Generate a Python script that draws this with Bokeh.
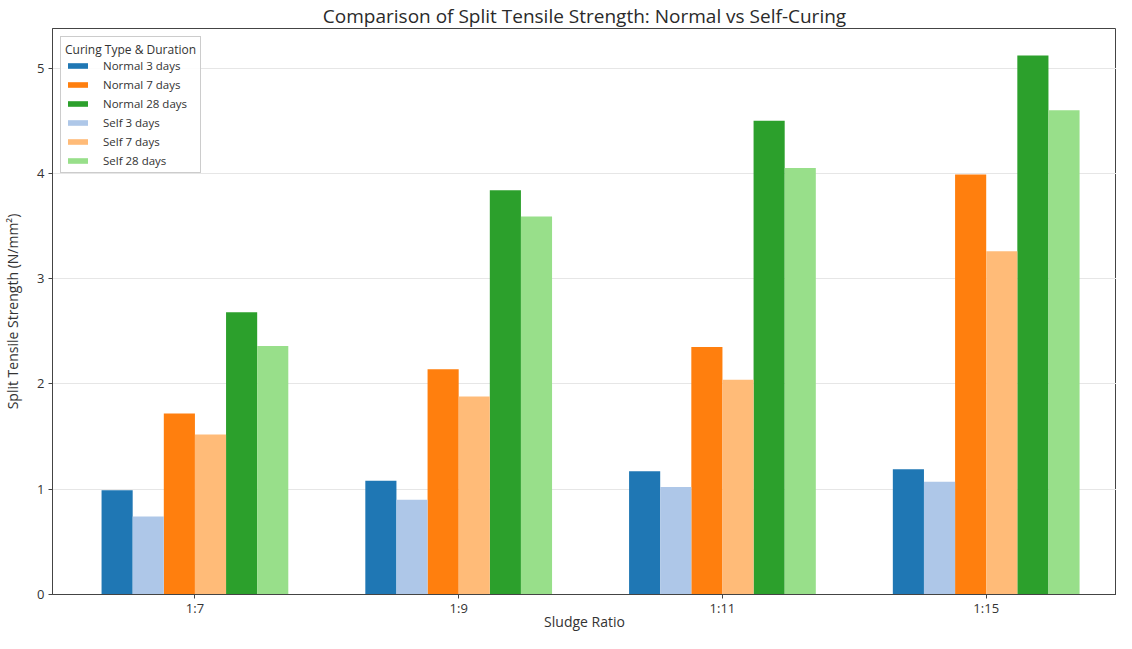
from bokeh.plotting import figure
from bokeh.models import FixedTicker, Range1d, Legend, LegendItem
from bokeh.embed import file_html
from bokeh.resources import INLINE

ratios = ["1:7", "1:9", "1:11", "1:15"]
normal_3 = [0.99, 1.08, 1.17, 1.19]
normal_7 = [1.72, 2.14, 2.35, 3.99]
normal_28 = [2.68, 3.84, 4.50, 5.12]
self_3 = [0.74, 0.90, 1.02, 1.07]
self_7 = [1.52, 1.88, 2.04, 3.26]
self_28 = [2.36, 3.59, 4.05, 4.60]

FONT = "Open Sans"
w = 0.118

p = figure(width=1116, height=633, output_backend="svg", toolbar_location=None,
           x_range=Range1d(-0.54, 3.494), y_range=Range1d(0, 5.376),
           min_border_left=47, min_border_right=0, min_border_top=0, min_border_bottom=0)
p.title.text = "Comparison of Split Tensile Strength: Normal vs Self-Curing"
p.title.align = "center"
p.title.text_font = FONT
p.title.text_font_style = "normal"
p.title.text_font_size = "19px"
p.title.text_color = "#2a2a2a"
p.title.offset = 0
p.title.standoff = 0

xs = list(range(len(ratios)))
series = [
    ("Normal 3 days", normal_3, "#1f77b4", 0),
    ("Normal 7 days", normal_7, "#ff7f0e", 2),
    ("Normal 28 days", normal_28, "#2ca02c", 4),
    ("Self 3 days", self_3, "#aec7e8", 1),
    ("Self 7 days", self_7, "#ffbb78", 3),
    ("Self 28 days", self_28, "#98df8a", 5),
]
items = []
for label, vals, col, pos in series:
    off = (pos - 2.5) * w
    r = p.vbar(x=[x + off for x in xs], top=vals, width=w, bottom=0,
               fill_color=col, line_color=None)
    items.append(LegendItem(label=label, renderers=[r]))

legend = Legend(items=items, location="top_left")
legend.title = "Curing Type & Duration"
legend.title_text_font = FONT
legend.title_text_font_size = "12px"
legend.title_text_font_style = "normal"
legend.title_text_color = "#333333"
legend.title_standoff = 0
legend.label_text_font = FONT
legend.label_text_font_size = "11.5px"
legend.label_text_color = "#333333"
legend.glyph_width = 25
legend.glyph_height = 7
legend.label_height = 13
legend.label_standoff = 13
legend.spacing = 4
legend.padding = 4
legend.margin = 8
legend.border_line_color = "#cccccc"
legend.border_line_alpha = 1
legend.background_fill_alpha = 0.85
p.add_layout(legend)

p.xaxis.ticker = FixedTicker(ticks=xs)
p.xaxis.major_label_overrides = {i: r for i, r in enumerate(ratios)}
p.yaxis.ticker = FixedTicker(ticks=[0, 1, 2, 3, 4, 5])
p.xaxis.axis_label = "Sludge Ratio"
p.yaxis.axis_label = "Split Tensile Strength (N/mm²)"
for ax in (p.xaxis, p.yaxis):
    ax.axis_label_text_font = FONT
    ax.axis_label_text_font_style = "normal"
    ax.axis_label_text_font_size = "14px"
    ax.axis_label_text_color = "#333333"
    ax.major_label_text_font = FONT
    ax.major_label_text_font_size = "13px"
    ax.major_label_text_color = "#333333"
    ax.axis_line_color = "#444444"
    ax.major_tick_line_color = "#444444"
    ax.major_tick_in = 0
    ax.major_tick_out = 4
    ax.minor_tick_line_color = None
p.xaxis.major_label_standoff = 0
p.xaxis.axis_label_standoff = -8
p.yaxis.major_label_standoff = 4
p.yaxis.axis_label_standoff = 12

p.xgrid.grid_line_color = None
p.ygrid.grid_line_color = "#e6e6e6"
p.ygrid.grid_line_width = 1
p.outline_line_color = "#444444"
p.background_fill_color = "white"

open("out.html", "w").write(file_html(p, INLINE))
